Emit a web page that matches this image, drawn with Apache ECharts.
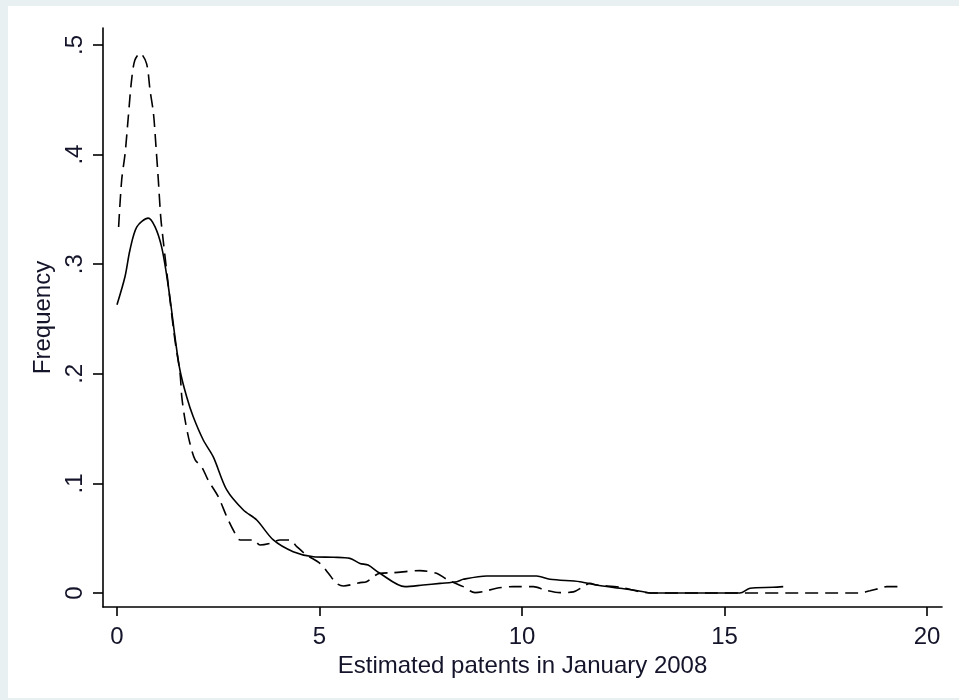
<!DOCTYPE html>
<html>
<head>
<meta charset="utf-8">
<script src="https://cdn.jsdelivr.net/npm/echarts@6/dist/echarts.min.js"></script>
<style>
  html, body { margin: 0; padding: 0; width: 959px; height: 700px; background: #e9f0f1; overflow: hidden; }
  #chart { position: absolute; left: 8px; top: 6px; width: 951px; height: 692px; background: #ffffff; }
</style>
</head>
<body>
<div id="chart"></div>
<script>
// Solid line: [x, density]
const solidX = [0.0, 0.2, 0.32, 0.49, 0.77, 0.94, 1.1, 1.23, 1.33, 1.43, 1.556, 1.72, 1.88, 2.13, 2.38, 2.71, 3.12, 3.45, 3.86, 4.35, 4.85, 5.34, 5.75, 6.0, 6.2, 6.49, 7.11, 7.56, 7.98, 8.39, 8.55, 9.13, 10.36, 10.69, 11.43, 11.84, 12.42, 13.0, 13.16, 15.38, 15.63, 16.2, 16.45];
const solidY = [0.263, 0.289, 0.313, 0.334, 0.342, 0.334, 0.316, 0.289, 0.263, 0.234, 0.203, 0.179, 0.161, 0.1396, 0.124, 0.094, 0.0757, 0.0666, 0.0484, 0.0377, 0.0331, 0.0326, 0.0316, 0.027, 0.0255, 0.018, 0.0058, 0.0073, 0.0088, 0.0103, 0.0125, 0.0155, 0.0155, 0.0125, 0.0103, 0.0073, 0.0043, 0.0012, 0.0, 0.0, 0.0043, 0.0052, 0.0058];

// Dashed line: [x, density]
const dashX = [0.04, 0.116, 0.2, 0.28, 0.36, 0.44, 0.57, 0.73, 0.815, 0.9, 0.963, 1.02, 1.08, 1.14, 1.31, 1.43, 1.556, 1.6, 1.68, 1.8, 1.93, 2.09, 2.25, 2.5, 2.71, 2.87, 3.04, 3.37, 3.53, 3.78, 4.02, 4.27, 4.44, 4.68, 5.01, 5.22, 5.42, 5.59, 5.92, 6.0, 6.16, 6.49, 6.82, 7.48, 7.89, 8.14, 8.55, 8.84, 9.04, 9.37, 9.79, 10.28, 10.57, 10.94, 11.27, 11.51, 11.68, 11.84, 12.42, 12.91, 13.16, 18.35, 18.59, 18.84, 19.0, 19.33];
const dashY = [0.334, 0.377, 0.401, 0.435, 0.468, 0.486, 0.4925, 0.483, 0.459, 0.4377, 0.407, 0.377, 0.343, 0.322, 0.267, 0.231, 0.2005, 0.179, 0.158, 0.1366, 0.1214, 0.1152, 0.103, 0.0879, 0.0696, 0.0575, 0.0484, 0.0484, 0.0438, 0.0453, 0.0484, 0.0484, 0.0423, 0.0347, 0.0271, 0.018, 0.0088, 0.0064, 0.0088, 0.0095, 0.0103, 0.018, 0.0185, 0.0204, 0.018, 0.0125, 0.0058, 0.0003, 0.0012, 0.0043, 0.0058, 0.0058, 0.0027, 0.0003, 0.001, 0.0058, 0.0088, 0.0073, 0.0052, 0.0012, 0.0, 0.0, 0.002, 0.0043, 0.0058, 0.0058];

// Axis ticks and labels
const xTickValues = [0, 5, 10, 15, 20];
const xTickLabels = ['0', '5', '10', '15', '20'];
const yTickValues = [0, 0.1, 0.2, 0.3, 0.4, 0.5];
const yTickLabels = ['0', '.1', '.2', '.3', '.4', '.5'];

const xTitle = 'Estimated patents in January 2008';
const yTitle = 'Frequency';

function pairs(xs, ys) { return xs.map((x, i) => [x, ys[i]]); }

const FONT = "'Liberation Sans', Arial, sans-serif";
const TXT = '#14142a';

const chart = echarts.init(document.getElementById('chart'), null, { renderer: 'canvas' });
chart.setOption({
  animation: false,
  backgroundColor: '#ffffff',
  grid: { left: 95, top: 22, width: 839, height: 579, containLabel: false },
  xAxis: {
    type: 'value',
    min: -0.3457, max: 20.37,
    name: xTitle, nameLocation: 'middle', nameGap: 40,
    nameTextStyle: { fontFamily: FONT, fontSize: 24, color: TXT },
    axisLine: { show: true, onZero: false, lineStyle: { color: '#000', width: 1.6 } },
    axisTick: { show: true, customValues: xTickValues, length: 9, lineStyle: { color: '#000', width: 1.6 } },
    axisLabel: {
      customValues: xTickValues, margin: 18,
      fontFamily: FONT, fontSize: 24, color: TXT,
      formatter: v => { const i = xTickValues.findIndex(t => Math.abs(t - v) < 1e-9); return i >= 0 ? xTickLabels[i] : ''; }
    },
    splitLine: { show: false }
  },
  yAxis: {
    type: 'value',
    min: -0.01277, max: 0.5155,
    name: yTitle, nameLocation: 'middle', nameGap: 46, nameRotate: 90,
    nameTextStyle: { fontFamily: FONT, fontSize: 24, color: TXT },
    axisLine: { show: true, onZero: false, lineStyle: { color: '#000', width: 1.6 } },
    axisTick: { show: true, customValues: yTickValues, length: 10, lineStyle: { color: '#000', width: 1.6 } },
    axisLabel: {
      customValues: yTickValues, margin: 16, rotate: 90,
      fontFamily: FONT, fontSize: 24, color: TXT,
      formatter: v => { const i = yTickValues.findIndex(t => Math.abs(t - v) < 1e-9); return i >= 0 ? yTickLabels[i] : ''; }
    },
    splitLine: { show: false }
  },
  series: [
    {
      type: 'line', data: pairs(solidX, solidY), showSymbol: false, smooth: 0.3,
      lineStyle: { color: '#000', width: 1.6, type: 'solid' }
    },
    {
      type: 'line', data: pairs(dashX, dashY), showSymbol: false, smooth: 0.3,
      lineStyle: { color: '#000', width: 1.6, type: [13, 7] }
    }
  ]
});
</script>
</body>
</html>
